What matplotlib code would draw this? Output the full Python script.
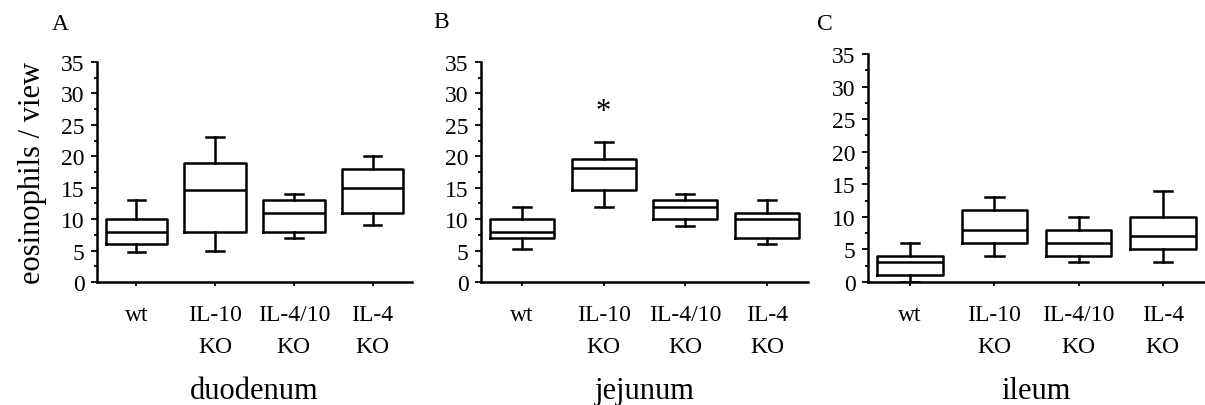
import matplotlib
matplotlib.use('Agg')
import matplotlib.pyplot as plt
from matplotlib.ticker import MultipleLocator

plt.rcParams['font.family'] = ['Liberation Serif', 'DejaVu Serif']

groups = ['wt', 'IL-10\nKO', 'IL-4/10\nKO', 'IL-4\nKO']
regions = ['duodenum', 'jejunum', 'ileum']
letters = ['A', 'B', 'C']

# whisker low, q1, median, q3, whisker high  (per group)
duo_lo = [4.8, 5, 7, 9]
duo_q1 = [6, 8, 8, 11]
duo_med = [8, 14.6, 11, 15]
duo_q3 = [10, 19, 13, 18]
duo_hi = [13, 23, 14, 20]

jej_lo = [5.3, 12, 8.9, 6]
jej_q1 = [7, 14.6, 10, 7]
jej_med = [8, 18.1, 12, 10]
jej_q3 = [10, 19.5, 13, 11]
jej_hi = [12, 22.3, 14, 13]

ile_lo = [0, 4, 3, 3]
ile_q1 = [1, 6, 4, 5]
ile_med = [3, 8, 6, 7]
ile_q3 = [4, 11, 8, 10]
ile_hi = [6, 13, 10, 14]

data = [
    (duo_lo, duo_q1, duo_med, duo_q3, duo_hi),
    (jej_lo, jej_q1, jej_med, jej_q3, jej_hi),
    (ile_lo, ile_q1, ile_med, ile_q3, ile_hi),
]

W, H = 1205, 406
fig = plt.figure(figsize=(W / 100, H / 100), dpi=100)

# axes boxes in pixels: left, right, top, bottom
boxes = [(97, 412, 63, 283), (481, 808, 63, 283), (868, 1205, 55, 283)]
letter_pos = [(52, 25), (433, 23), (817, 25)]

lw = 1.8
for i in range(3):
    l, r, t, b = boxes[i]
    ax = fig.add_axes([l / W, (H - b) / H, (r - l) / W, (b - t) / H])
    lo, q1, med, q3, hi = data[i]
    stats = []
    for k in range(4):
        stats.append({'whislo': lo[k], 'q1': q1[k], 'med': med[k],
                      'q3': q3[k], 'whishi': hi[k], 'fliers': []})
    ax.bxp(stats, positions=[1, 2, 3, 4], widths=0.78, showfliers=False,
           boxprops=dict(color='black', linewidth=lw),
           medianprops=dict(color='black', linewidth=lw),
           whiskerprops=dict(color='black', linewidth=lw),
           capprops=dict(color='black', linewidth=lw),
           capwidths=0.22)
    ax.set_xlim(0.5, 4.5)
    ax.set_ylim(0, 35)
    ax.spines['top'].set_visible(False)
    ax.spines['right'].set_visible(False)
    ax.spines['left'].set_linewidth(lw)
    ax.spines['bottom'].set_linewidth(lw)
    ax.yaxis.set_major_locator(MultipleLocator(5))
    ax.yaxis.set_minor_locator(MultipleLocator(2.5))
    ax.tick_params(axis='y', which='major', length=4, width=1.3, labelsize=17, pad=5)
    ax.tick_params(axis='y', which='minor', length=2.5, width=1.3)
    ax.tick_params(axis='x', which='major', length=3, width=1.3, labelsize=17, pad=13)
    ax.set_xticks([1, 2, 3, 4])
    ax.set_xticklabels(groups, linespacing=1.65)
    ax.set_xlabel(regions[i], fontsize=22, labelpad=14)
    if i == 0:
        ax.set_ylabel('eosinophils / view', fontsize=22, labelpad=10)
    if i == 1:
        ax.text(2, 27.2, '*', ha='center', va='center', fontsize=22)
    fig.text(letter_pos[i][0] / W, 1 - letter_pos[i][1] / H, letters[i],
             fontsize=17, ha='left', va='center')

fig.savefig('out.png', dpi=100)
